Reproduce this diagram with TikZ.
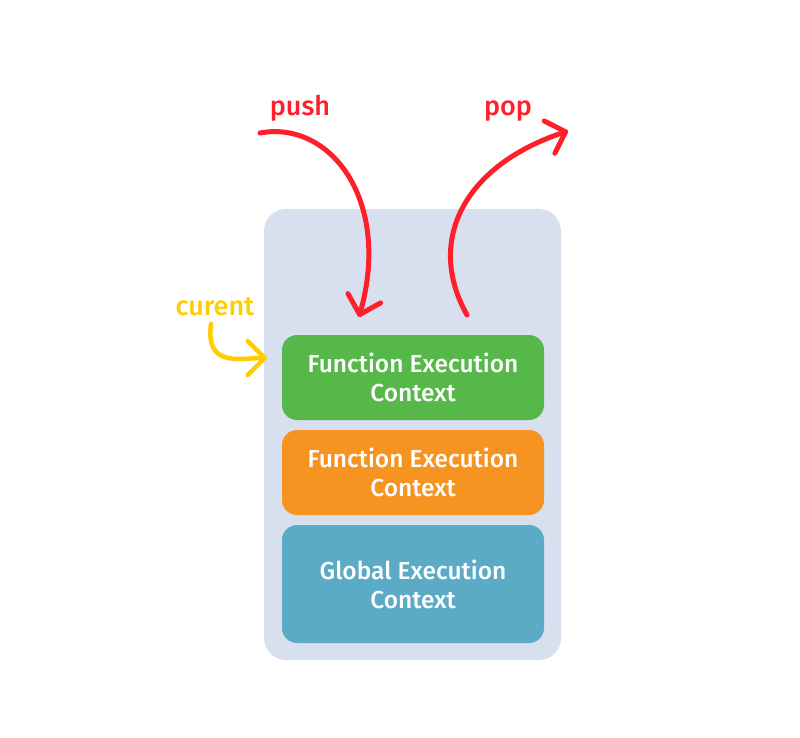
\documentclass[tikz,border=0pt]{standalone}
\usepackage{fontspec}
\setmainfont{Fira Sans}[UprightFont=* Medium]
\usetikzlibrary{arrows.meta}
\definecolor{stackbg}{HTML}{D8E0F0}
\definecolor{fecgreen}{HTML}{57B84A}
\definecolor{fecorange}{HTML}{F79421}
\definecolor{gecblue}{HTML}{5BABC6}
\definecolor{arrowred}{HTML}{FF1F2A}
\definecolor{curyellow}{HTML}{FFCC00}
\tikzset{
  ctxbox/.style={rounded corners=15pt, minimum width=262pt, text=white,
    align=center, font=\fontsize{24.5}{29}\selectfont, inner sep=0pt},
  stackarrow/.style={line width=5pt, line cap=round,
    -{Straight Barb[length=17pt, width=34pt, round]}},
}
\begin{document}
\begin{tikzpicture}[x=1pt, y=-1pt]
    \useasboundingbox (0,0) rectangle (800,738);
    % Stack background
    \fill[stackbg, rounded corners=22pt] (264,209) rectangle (561,660);

    % Execution contexts
    \node[ctxbox, fill=fecgreen, minimum height=85pt] (fec1) at (413,377.5) {Function Execution\\Context};
    \node[ctxbox, fill=fecorange, minimum height=85pt] (fec2) at (413,472.5) {Function Execution\\Context};
    \node[ctxbox, fill=gecblue, minimum height=118pt] (gec) at (413,584) {Global Execution\\Context};

    % Labels
    \node[text=arrowred, font=\fontsize{27}{30}\selectfont] (push) at (300,108) {push};
    \node[text=arrowred, font=\fontsize{27}{30}\selectfont] (pop) at (508,111) {pop};
    \node[text=curyellow, font=\fontsize{27}{30}\selectfont] (cur) at (215,307) {curent};

    % Arrow end points
    \coordinate (pushin) at (260,133);
    \coordinate (pushout) at (359,317);
    \coordinate (popin) at (467,315);
    \coordinate (popout) at (568,131);
    \coordinate (curin) at (211,324);
    \coordinate (curout) at (267,358);

    % Arrows
    \draw[stackarrow, arrowred] (pushin) .. controls (330,120) and (392,200) .. (pushout);
    \draw[stackarrow, arrowred] (popin) .. controls (425,240) and (465,165) .. (popout);
    \draw[stackarrow, curyellow, line width=4.5pt] (curin) .. controls (205,368) and (240,358) .. (curout);
\end{tikzpicture}
\end{document}
